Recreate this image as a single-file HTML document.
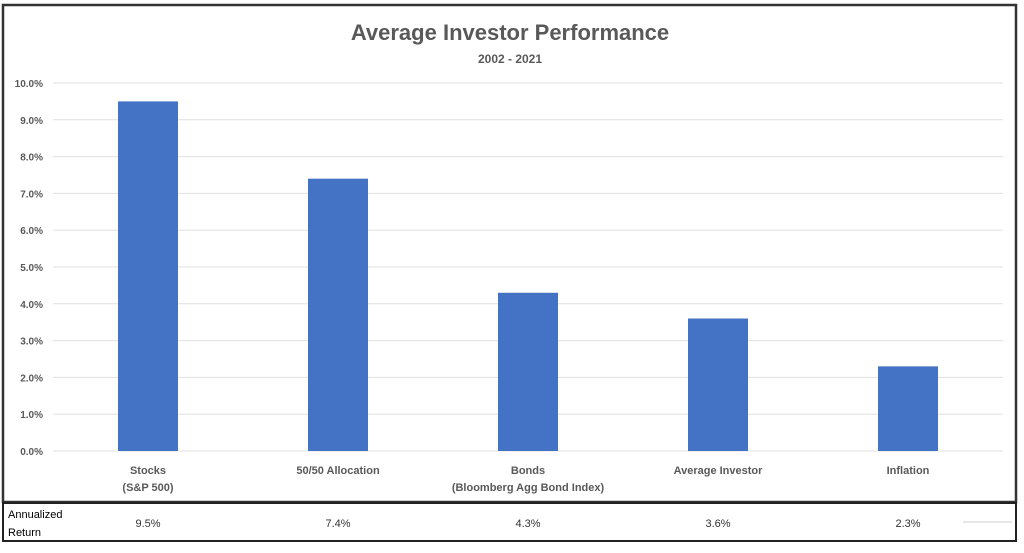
<!DOCTYPE html>
<html><head><meta charset="utf-8"><style>
body{margin:0;background:#fff;width:1024px;height:548px;overflow:hidden;font-family:"Liberation Sans",sans-serif}
svg text{font-family:"Liberation Sans",sans-serif}
</style></head><body>
<svg id="c" width="1024" height="548">
<rect x="3" y="5" width="1013" height="497" fill="none" stroke="#333" stroke-width="2.5"/>
<rect x="3" y="503" width="1013" height="38" fill="none" stroke="#222" stroke-width="2"/>
<text x="510" y="40" text-anchor="middle" font-size="22" font-weight="bold" fill="#595959">Average Investor Performance</text>
<text x="510" y="63" text-anchor="middle" font-size="12" font-weight="bold" fill="#595959">2002 - 2021</text>
<text x="8" y="518" font-size="11" fill="#000">Annualized</text>
<text x="8" y="536" font-size="11" fill="#000">Return</text>
<line x1="963" y1="522" x2="1012" y2="522" stroke="#ccc"/>
<g id="g"></g>
</svg>
<script>
const categories=[["Stocks","(S&P 500)"],["50/50 Allocation"],["Bonds","(Bloomberg Agg Bond Index)"],["Average Investor"],["Inflation"]];
const values=[9.5,7.4,4.3,3.6,2.3];
const tickValues=[0,1,2,3,4,5,6,7,8,9,10];
const tableLabels=["9.5%","7.4%","4.3%","3.6%","2.3%"];
const NS="http://www.w3.org/2000/svg";
const g=document.getElementById('g');
const x0=53,x1=1003,y0=451,y1=83;
const y=v=>y0-(v/10)*(y0-y1);
const step=(x1-x0)/categories.length;
const xc=i=>x0+step*(i+0.5);
function mk(t,a){const e=document.createElementNS(NS,t);for(const k in a)e.setAttribute(k,a[k]);g.appendChild(e);return e;}
tickValues.forEach(v=>{
 const l=mk('line',{x1:x0,x2:x1,y1:y(v),y2:y(v),stroke:'#e0e0e0','stroke-width':1});
 
 
 const t=mk('text',{x:43,y:y(v)+4,'text-anchor':'end','font-size':10,'font-weight':'bold',fill:'#595959'});
 t.textContent=v.toFixed(1)+'%';
 
 
});
values.forEach((v,i)=>{
 const r=mk('rect',{x:xc(i)-30,y:y(v),width:60,height:y0-y(v),fill:'#4472c4'});
 
 
 categories[i].forEach((s,j)=>{
  const t=mk('text',{x:xc(i),y:474+j*17,'text-anchor':'middle','font-size':11,'font-weight':'bold',fill:'#595959'});
  t.textContent=s;
  
  
 });
 const t=mk('text',{x:xc(i),y:527,'text-anchor':'middle','font-size':11,fill:'#333'});
 t.textContent=tableLabels[i];
 
 
});
</script>
</body></html>
